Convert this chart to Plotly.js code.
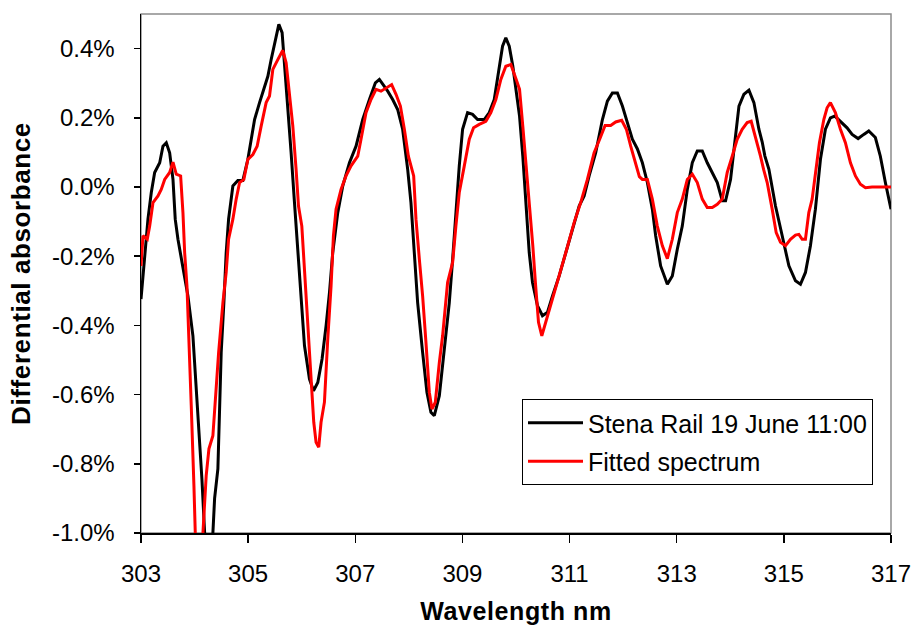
<!DOCTYPE html>
<html>
<head>
<meta charset="utf-8">
<script src="https://cdn.plot.ly/plotly-3.0.1.min.js"></script>
<style>
  html, body { margin: 0; padding: 0; background: #fff; }
  #chart { width: 913px; height: 625px; }
  .g-xtitle text { letter-spacing: 0.6px; }
  .g-ytitle text { letter-spacing: 0.6px; }
</style>
</head>
<body>
<div id="chart"></div>
<script>
// Measured differential absorbance (%) vs wavelength (nm)
const measuredWl = [
  303.000, 303.069, 303.130, 303.192, 303.255, 303.349, 303.410, 303.472, 303.535, 303.597,
  303.639, 303.690, 303.783, 303.876, 303.969, 304.031, 304.094, 304.137, 304.188, 304.258,
  304.342, 304.374, 304.435, 304.467, 304.497, 304.547, 304.590, 304.635, 304.715, 304.808,
  304.902, 304.995, 305.120, 305.213, 305.325, 305.368, 305.429, 305.493, 305.573, 305.634,
  305.679, 305.740, 305.802, 305.865, 305.927, 305.988, 306.052, 306.145, 306.220, 306.300,
  306.380, 306.455, 306.518, 306.579, 306.673, 306.766, 306.891, 307.014, 307.139, 307.264,
  307.375, 307.450, 307.543, 307.605, 307.698, 307.791, 307.884, 307.978, 308.039, 308.090,
  308.164, 308.257, 308.337, 308.412, 308.475, 308.569, 308.630, 308.692, 308.755, 308.817,
  308.878, 308.941, 309.003, 309.096, 309.189, 309.283, 309.407, 309.501, 309.594, 309.674,
  309.749, 309.810, 309.874, 309.941, 310.004, 310.066, 310.127, 310.187, 310.247, 310.308,
  310.401, 310.494, 310.588, 310.681, 310.806, 310.929, 311.054, 311.179, 311.272, 311.365,
  311.488, 311.613, 311.706, 311.799, 311.893, 311.986, 312.079, 312.172, 312.266, 312.359,
  312.452, 312.545, 312.607, 312.700, 312.825, 312.918, 313.011, 313.104, 313.198, 313.291,
  313.384, 313.477, 313.570, 313.664, 313.757, 313.850, 313.912, 314.005, 314.098, 314.162,
  314.255, 314.348, 314.441, 314.534, 314.596, 314.645, 314.721, 314.844, 314.969, 315.094,
  315.217, 315.310, 315.403, 315.496, 315.589, 315.683, 315.776, 315.869, 315.951, 316.056,
  316.180, 316.274, 316.386, 316.492, 316.585, 316.708, 316.801, 316.895, 317.000
];
const measuredAbs = [
  -0.324, -0.190, -0.093, -0.016, 0.042, 0.070, 0.118, 0.128, 0.099, 0.022,
  -0.093, -0.151, -0.228, -0.315, -0.430, -0.574, -0.728, -0.844, -1.000, -1.100,
  -1.000, -0.900, -0.815, -0.650, -0.478, -0.334, -0.190, -0.093, 0.003, 0.019,
  0.019, 0.080, 0.195, 0.244, 0.300, 0.320, 0.368, 0.417, 0.470, 0.446,
  0.359, 0.244, 0.099, -0.045, -0.190, -0.334, -0.459, -0.555, -0.589, -0.565,
  -0.497, -0.401, -0.305, -0.190, -0.074, 0.003, 0.070, 0.118, 0.195, 0.253,
  0.301, 0.311, 0.291, 0.277, 0.253, 0.224, 0.167, 0.051, -0.045, -0.170,
  -0.334, -0.478, -0.593, -0.651, -0.661, -0.603, -0.517, -0.430, -0.334, -0.209,
  -0.074, 0.061, 0.167, 0.215, 0.210, 0.195, 0.195, 0.215, 0.253, 0.340,
  0.407, 0.431, 0.407, 0.349, 0.282, 0.205, 0.089, -0.050, -0.190, -0.276,
  -0.343, -0.372, -0.362, -0.315, -0.257, -0.190, -0.122, -0.055, -0.026, 0.032,
  0.099, 0.195, 0.248, 0.272, 0.272, 0.234, 0.186, 0.138, 0.110, 0.070,
  0.013, -0.064, -0.141, -0.228, -0.281, -0.257, -0.180, -0.113, -0.007, 0.070,
  0.104, 0.104, 0.070, 0.042, 0.013, -0.040, -0.040, 0.022, 0.138, 0.234,
  0.268, 0.280, 0.244, 0.167, 0.130, 0.090, 0.051, -0.055, -0.141, -0.228,
  -0.271, -0.281, -0.247, -0.170, -0.064, 0.080, 0.167, 0.200, 0.205, 0.190,
  0.171, 0.152, 0.140, 0.152, 0.162, 0.143, 0.089, 0.013, -0.064
];

// Fitted spectrum (%) vs wavelength (nm)
const fittedWl = [
  303.000, 303.037, 303.117, 303.162, 303.224, 303.317, 303.378, 303.442, 303.535, 303.597,
  303.658, 303.740, 303.783, 303.815, 303.858, 303.895, 303.938, 303.988, 304.013, 304.081,
  304.156, 304.217, 304.268, 304.342, 304.404, 304.449, 304.529, 304.590, 304.635, 304.715,
  304.777, 304.840, 304.920, 304.995, 305.088, 305.168, 305.243, 305.336, 305.399, 305.461,
  305.554, 305.647, 305.709, 305.772, 305.834, 305.895, 305.940, 306.002, 306.052, 306.100,
  306.145, 306.188, 306.225, 306.268, 306.318, 306.361, 306.424, 306.486, 306.548, 306.592,
  306.641, 306.734, 306.827, 306.921, 307.046, 307.107, 307.200, 307.293, 307.387, 307.480,
  307.568, 307.679, 307.760, 307.842, 307.916, 307.991, 308.090, 308.133, 308.196, 308.257,
  308.319, 308.382, 308.431, 308.494, 308.569, 308.630, 308.723, 308.817, 308.878, 308.941,
  309.035, 309.128, 309.208, 309.314, 309.437, 309.531, 309.624, 309.717, 309.810, 309.904,
  310.004, 310.066, 310.127, 310.191, 310.252, 310.314, 310.364, 310.420, 310.482, 310.556,
  310.649, 310.774, 310.929, 311.085, 311.208, 311.333, 311.458, 311.562, 311.663, 311.767,
  311.861, 311.973, 312.060, 312.141, 312.234, 312.303, 312.359, 312.452, 312.545, 312.638,
  312.732, 312.825, 312.918, 313.011, 313.104, 313.198, 313.291, 313.384, 313.477, 313.570,
  313.664, 313.757, 313.850, 313.943, 314.036, 314.129, 314.222, 314.315, 314.390, 314.470,
  314.564, 314.623, 314.689, 314.782, 314.857, 314.937, 315.030, 315.123, 315.217, 315.280,
  315.342, 315.403, 315.466, 315.528, 315.589, 315.664, 315.746, 315.807, 315.869, 315.962,
  316.056, 316.149, 316.243, 316.336, 316.429, 316.523, 316.647, 317.000
];
const fittedAbs = [
  -0.228, -0.141, -0.151, -0.113, -0.045, -0.026, -0.007, 0.022, 0.042, 0.072,
  0.037, 0.032, -0.074, -0.190, -0.286, -0.430, -0.632, -0.863, -1.000, -1.080,
  -1.000, -0.834, -0.757, -0.719, -0.574, -0.478, -0.334, -0.247, -0.151, -0.093,
  -0.035, 0.013, 0.022, 0.080, 0.094, 0.118, 0.176, 0.244, 0.263, 0.340,
  0.368, 0.395, 0.359, 0.272, 0.176, 0.051, -0.055, -0.113, -0.228, -0.362,
  -0.478, -0.593, -0.680, -0.738, -0.752, -0.680, -0.622, -0.440, -0.286, -0.141,
  -0.064, -0.007, 0.032, 0.061, 0.089, 0.138, 0.215, 0.253, 0.282, 0.277,
  0.285, 0.296, 0.268, 0.234, 0.167, 0.089, 0.032, -0.093, -0.209, -0.315,
  -0.449, -0.593, -0.642, -0.622, -0.507, -0.430, -0.276, -0.218, -0.113, -0.016,
  0.061, 0.138, 0.171, 0.181, 0.190, 0.215, 0.253, 0.311, 0.349, 0.354,
  0.311, 0.282, 0.176, 0.061, -0.055, -0.170, -0.280, -0.391, -0.430, -0.391,
  -0.343, -0.276, -0.190, -0.103, -0.045, 0.022, 0.099, 0.138, 0.178, 0.178,
  0.188, 0.193, 0.167, 0.118, 0.070, 0.030, 0.022, 0.022, -0.035, -0.113,
  -0.170, -0.207, -0.151, -0.074, -0.035, 0.022, 0.037, 0.013, -0.035, -0.059,
  -0.059, -0.050, -0.035, 0.042, 0.089, 0.138, 0.167, 0.186, 0.190, 0.147,
  0.089, 0.050, 0.013, -0.064, -0.132, -0.160, -0.170, -0.151, -0.139, -0.137,
  -0.151, -0.151, -0.074, -0.035, 0.042, 0.128, 0.195, 0.229, 0.244, 0.215,
  0.167, 0.128, 0.070, 0.032, 0.008, -0.002, 0.000, 0.000
];

// Axis tick values and labels
const xTickVals = [303, 305, 307, 309, 311, 313, 315, 317];
const yTickVals = [-1.0, -0.8, -0.6, -0.4, -0.2, 0.0, 0.2, 0.4];
const yTickText = ['-1.0%', '-0.8%', '-0.6%', '-0.4%', '-0.2%', '0.0%', '0.2%', '0.4%'];

const seriesNames = ['Stena Rail 19 June 11:00', 'Fitted spectrum'];

const traces = [
  {
    x: measuredWl, y: measuredAbs, type: 'scatter', mode: 'lines',
    name: seriesNames[0], legendgroup: 'a',
    line: { color: '#000000', width: 3 }
  },
  {
    x: fittedWl, y: fittedAbs, type: 'scatter', mode: 'lines',
    name: seriesNames[1], legendgroup: 'b',
    line: { color: '#ff0000', width: 3 }
  }
];

const tickFont = { family: 'Arial, "Liberation Sans", sans-serif', size: 24, color: '#000' };
const titleFont = { family: 'Arial, "Liberation Sans", sans-serif', size: 25, color: '#000', weight: 'bold' };

const layout = {
  width: 913, height: 625,
  margin: { l: 141, r: 22, t: 14, b: 92 },
  paper_bgcolor: '#fff', plot_bgcolor: '#fff',
  showlegend: true,
  legend: {
    x: 0.508, y: 0.258, xanchor: 'left', yanchor: 'top',
    bgcolor: '#fff', bordercolor: '#000', borderwidth: 1,
    font: { family: 'Arial, "Liberation Sans", sans-serif', size: 25, color: '#000' },
    itemwidth: 55, tracegroupgap: 3
  },
  xaxis: {
    range: [303, 317], tickvals: xTickVals, ticktext: xTickVals.map(String),
    ticks: 'outside', ticklen: 8, tickwidth: 1.5, tickcolor: '#000',
    showline: true, linecolor: '#000', linewidth: 1.5,
    showgrid: false, zeroline: false, tickfont: tickFont,
    ticklabelstandoff: 11,
    title: { text: 'Wavelength nm', font: titleFont, standoff: 17 }
  },
  yaxis: {
    range: [-1.0, 0.5], tickvals: yTickVals, ticktext: yTickText,
    ticks: 'outside', ticklen: 6, tickwidth: 1.5, tickcolor: '#000',
    showline: true, linecolor: '#000', linewidth: 1.5,
    showgrid: false, zeroline: false, tickfont: tickFont,
    ticklabelstandoff: 14,
    title: { text: 'Differential absorbance', font: Object.assign({}, titleFont, { size: 26 }), standoff: 14 }
  },
  shapes: [{
    type: 'rect', xref: 'paper', yref: 'paper', x0: 0, x1: 1, y0: 0, y1: 1,
    line: { color: '#8c8c8c', width: 1.5 }, layer: 'below'
  }]
};

Plotly.newPlot('chart', traces, layout, { displayModeBar: false, staticPlot: true });
</script>
</body>
</html>
